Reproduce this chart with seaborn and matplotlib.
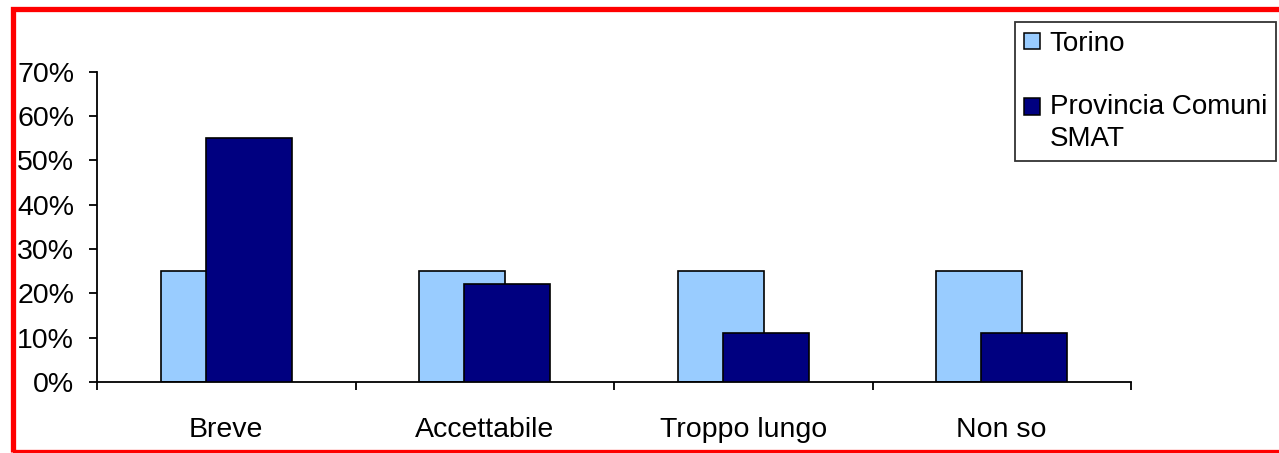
import matplotlib
matplotlib.use("Agg")
import matplotlib.pyplot as plt
import seaborn as sns
import pandas as pd
from matplotlib.patches import Patch, Rectangle
from matplotlib.legend_handler import HandlerPatch
from matplotlib.ticker import FixedLocator, PercentFormatter

categories = ["Breve", "Accettabile", "Troppo lungo", "Non so"]
series_names = ["Torino", "Provincia Comuni\nSMAT"]
torino = [0.25, 0.25, 0.25, 0.25]
provincia = [0.55, 0.22, 0.11, 0.11]
colors = ["#99CCFF", "#000080"]
yticks = [0, 0.1, 0.2, 0.3, 0.4, 0.5, 0.6, 0.7]

df = pd.DataFrame({
    "cat": categories * 2,
    "serie": [series_names[0]] * 4 + [series_names[1]] * 4,
    "val": torino + provincia,
})

sns.set_style("white")
plt.rcParams["font.family"] = ["Liberation Sans", "DejaVu Sans"]
plt.rcParams["text.color"] = "black"

W, H = 1279, 453
fig = plt.figure(figsize=(W / 100, H / 100), dpi=100)
ax = fig.add_axes([97 / W, 1 - 382 / H, (1131 - 97) / W, (382 - 71.7) / H])

total_w = 0.667
sns.barplot(data=df, x="cat", y="val", hue="serie", order=categories,
            hue_order=series_names, palette=colors, dodge=True, width=total_w,
            edgecolor="black", linewidth=1.2, saturation=1, ax=ax, legend=False)

# Excel-style overlap: move bars toward group centre
sep = 0.173
shift = total_w / 4 - sep / 2
for i, cont in enumerate(ax.containers):
    d = shift if i == 0 else -shift
    for p in cont.patches:
        p.set_x(p.get_x() + d)
        p.set_zorder(2 + i)

ax.set_xlim(-0.5, 3.5)
ax.set_ylim(0, 0.7)
ax.set_yticks(yticks)
ax.yaxis.set_major_formatter(PercentFormatter(1.0, decimals=0))
ax.set_xlabel("")
ax.set_ylabel("")
for s in ["top", "right"]:
    ax.spines[s].set_visible(False)
for s in ["left", "bottom"]:
    ax.spines[s].set_color("black")
    ax.spines[s].set_linewidth(1.3)

ax.xaxis.set_minor_locator(FixedLocator([-0.5, 0.5, 1.5, 2.5, 3.5]))
ax.tick_params(axis="x", which="major", length=0, pad=25.5, labelsize=20.5, colors="black")
ax.tick_params(axis="x", which="minor", length=6, width=1.3, direction="out", color="black", bottom=True)
ax.tick_params(axis="y", which="major", length=6, width=1.3, direction="out", pad=10.5,
               labelsize=20.5, colors="black", left=True)

handles = [Patch(facecolor=c, edgecolor="black", linewidth=1.1) for c in colors]


def make_top_patch(legend, orig_handle, xdescent, ydescent, width, height, fontsize):
    return Rectangle((-xdescent, -ydescent + fontsize * 0.6), width, height)


hmap = {handles[1]: HandlerPatch(patch_func=make_top_patch)}
leg = fig.legend(handles, series_names, loc="upper right",
                 bbox_to_anchor=(1276 / W, 1 - 22 / H), bbox_transform=fig.transFigure,
                 fontsize=20, frameon=True, fancybox=False, shadow=False,
                 handlelength=0.58, handleheight=0.55, handletextpad=0.35,
                 labelspacing=1.35, borderpad=0.32, borderaxespad=0,
                 handler_map=hmap)
leg.get_frame().set_edgecolor("black")
leg.get_frame().set_linewidth(1.3)
for t in leg.get_texts():
    t.set_linespacing(1.28)
    t.set_color("black")

border = Rectangle((12.5 / W, 1 - 452 / H), (1300 - 12.5) / W, (452 - 8.5) / H,
                   transform=fig.transFigure, fill=False, edgecolor="#FF0000",
                   linewidth=3.8, clip_on=False)
fig.patches.append(border)

fig.savefig("out.png", dpi=100, facecolor="white")
